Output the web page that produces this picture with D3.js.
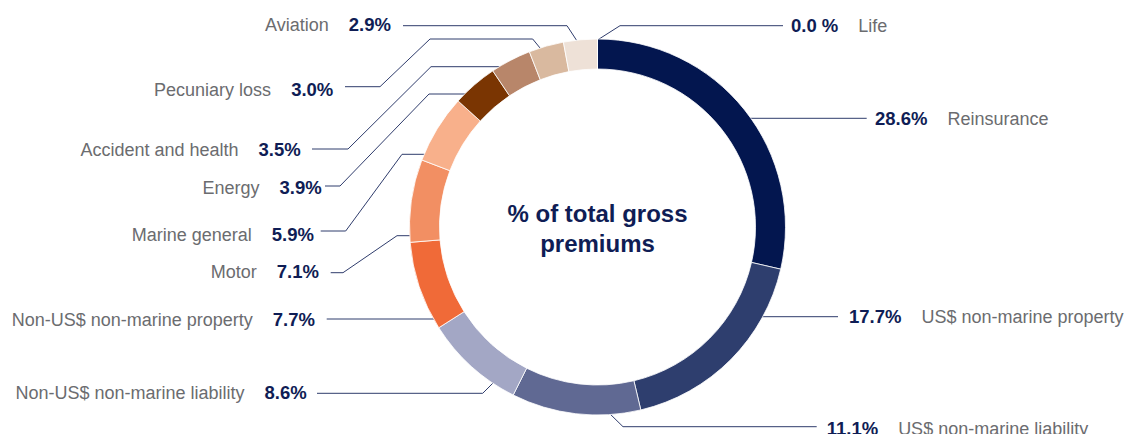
<!DOCTYPE html>
<html>
<head>
<meta charset="utf-8">
<script src="https://cdn.jsdelivr.net/npm/d3@7"></script>
<style>
  html, body { margin: 0; padding: 0; background: #fff; overflow: hidden; }
  svg { display: block; }
  text { font-family: "Liberation Sans", Arial, Helvetica, sans-serif; }
</style>
</head>
<body>
<svg id="chart" width="1140" height="434"></svg>
<script>
// ---- data ----
const categories = [
  "Reinsurance",
  "US$ non-marine property",
  "US$ non-marine liability",
  "Non-US$ non-marine liability",
  "Non-US$ non-marine property",
  "Motor",
  "Marine general",
  "Energy",
  "Accident and health",
  "Pecuniary loss",
  "Aviation",
  "Life"
];
const values = [28.6, 17.7, 11.1, 8.6, 7.7, 7.1, 5.9, 3.9, 3.5, 3.0, 2.9, 0.0];
const valueLabels = ["28.6%", "17.7%", "11.1%", "8.6%", "7.7%", "7.1%", "5.9%", "3.9%", "3.5%", "3.0%", "2.9%", "0.0 %"];
const colors = ["#03164f", "#2e3e6e", "#606993", "#a3a7c5", "#f06a38", "#f28f63",
                "#f8b08b", "#7a3502", "#b8866a", "#d9b99f", "#eee1d7", "#f5ede6"];
const titleLines = ["% of total gross", "premiums"];

// ---- layout (label placement / leader routing) ----
const cx = 597.5, cy = 227, R = 188, r = 158;
const layout = [
  {side: "r", tx: 875,   ty: 125,   pts: [[866.7, 118.3]], end: {y: 118.3}},
  {side: "r", tx: 849,   ty: 323.3, pts: [[838, 316.7]], end: {y: 316.7}},
  {side: "r", tx: 826.7, ty: 434.5, pts: [[816.7, 426.7], [623, 426.7]], end: {t: 0.24}},
  {side: "l", tx: 306.7, ty: 399,   pts: [[317, 393.3], [482.7, 393.3]], end: {t: 0.23}},
  {side: "l", tx: 315,   ty: 325.5, pts: [[326.7, 319]], end: {y: 319}},
  {side: "l", tx: 319,   ty: 277.5, pts: [[330.7, 272.7], [343, 272.7], [397, 235.7]], end: {y: 235.7}},
  {side: "l", tx: 314,   ty: 240.5, pts: [[320.7, 231], [345.7, 231], [402, 154.3]], end: {y: 154.3}},
  {side: "l", tx: 321.7, ty: 194,   pts: [[325, 186], [340, 186], [429, 94]], end: {y: 94}},
  {side: "l", tx: 300.7, ty: 156,   pts: [[312, 149], [348, 149], [431, 66.7]], end: {y: 66.7}},
  {side: "l", tx: 333.3, ty: 95.5,  pts: [[345, 86.7], [380, 86.7], [430, 39], [532.7, 39]], end: {t: 0.33}},
  {side: "l", tx: 391,   ty: 30.5,  pts: [[403, 25.7], [567, 25.7]], end: {t: 0.4}},
  {side: "r", tx: 791,   ty: 32,    pts: [[783, 25.7], [620, 25.7]], end: {t: 0}}
];

const svg = d3.select("#chart");
const data = categories.map((c, i) => ({cat: c, value: values[i], label: valueLabels[i], color: colors[i], lay: layout[i]}));

const pie = d3.pie().sort(null).value(d => d.value).startAngle(0).endAngle(2 * Math.PI);
const arcs = pie(data);
const arc = d3.arc().innerRadius(r).outerRadius(R);

// leader lines (under ring)
const lineGen = d3.line();
const leaders = svg.append("g");
arcs.forEach(a => {
  const L = a.data.lay;
  let endPt;
  if (L.end.y !== undefined) {
    const dy = L.end.y - cy;
    const dx = Math.sqrt(Math.max(0, R * R - dy * dy)) - 2;
    endPt = [L.side === "r" ? cx + dx : cx - dx, L.end.y];
  } else {
    const ang = a.startAngle + L.end.t * (a.endAngle - a.startAngle);
    endPt = [cx + (R - 1) * Math.sin(ang), cy - (R - 1) * Math.cos(ang)];
  }
  leaders.append("path")
    .attr("d", lineGen(L.pts.concat([endPt])))
    .attr("fill", "none")
    .attr("stroke", "#2f3c6c")
    .attr("stroke-width", 1);
});

// ring
svg.append("g")
  .attr("transform", `translate(${cx},${cy})`)
  .selectAll("path")
  .data(arcs)
  .join("path")
  .attr("d", arc)
  .attr("fill", d => d.data.color)
  .attr("stroke", "#ffffff")
  .attr("stroke-width", 0.8);

// labels
const labels = svg.append("g");
arcs.forEach(a => {
  const L = a.data.lay;
  const v = labels.append("text")
    .attr("x", L.tx).attr("y", L.ty)
    .attr("text-anchor", L.side === "l" ? "end" : "start")
    .attr("font-size", 18.5).attr("font-weight", "bold")
    .attr("fill", "#0f1d55")
    .text(a.data.label);
  const w = v.node().getComputedTextLength();
  const gap = 20;
  labels.append("text")
    .attr("x", L.side === "l" ? L.tx - w - gap : L.tx + w + gap)
    .attr("y", L.ty)
    .attr("text-anchor", L.side === "l" ? "end" : "start")
    .attr("font-size", 18)
    .attr("fill", "#6b6c6f")
    .text(a.data.cat);
});

// centre title
svg.append("g").selectAll("text")
  .data(titleLines)
  .join("text")
  .attr("x", cx)
  .attr("y", (d, i) => 221.5 + i * 30.5)
  .attr("text-anchor", "middle")
  .attr("font-size", 24)
  .attr("font-weight", "bold")
  .attr("fill", "#0f1d55")
  .text(d => d);
</script>
</body>
</html>
